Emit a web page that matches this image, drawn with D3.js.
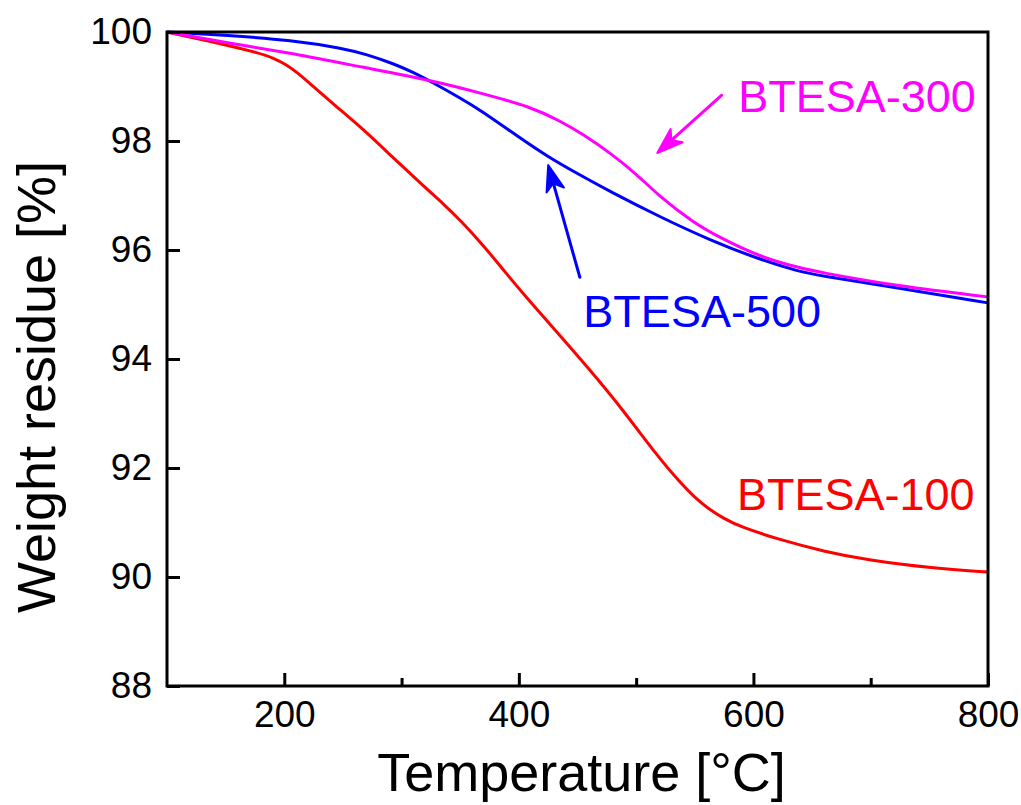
<!DOCTYPE html>
<html>
<head>
<meta charset="utf-8">
<script src="https://cdn.jsdelivr.net/npm/d3@7"></script>
<style>
  body { margin: 0; background: #fff; }
  svg text { font-family: "Liberation Sans", Arial, sans-serif; }
</style>
</head>
<body>
<div id="chart"></div>
<script>
// TGA curves (temperature in degC, weight residue in %)
var temp100 = [100, 151, 179, 190, 202, 212, 222, 245, 265, 293, 320, 335, 350, 370, 390, 410, 433, 461, 489, 518, 538, 550, 561, 575, 589, 623, 660, 697, 753, 800];
var weight100 = [100, 99.76, 99.61, 99.53, 99.40, 99.24, 99.05, 98.62, 98.26, 97.69, 97.15, 96.86, 96.55, 96.08, 95.55, 95.04, 94.48, 93.79, 93.06, 92.22, 91.72, 91.46, 91.26, 91.07, 90.92, 90.68, 90.47, 90.31, 90.16, 90.09];

var temp500 = [100, 151, 207, 250, 270, 293, 310, 325, 350, 367, 400, 424, 450, 478, 520, 563, 606, 640, 654, 725, 800];
var weight500 = [100, 99.94, 99.85, 99.70, 99.59, 99.42, 99.26, 99.09, 98.79, 98.57, 98.07, 97.72, 97.40, 97.07, 96.61, 96.18, 95.82, 95.60, 95.54, 95.30, 95.03];

var temp300 = [100, 151, 207, 265, 330, 367, 410, 435, 455, 478, 500, 520, 549, 572, 606, 640, 654, 725, 800];
var weight300 = [100, 99.80, 99.61, 99.36, 99.09, 98.88, 98.63, 98.37, 98.12, 97.78, 97.40, 96.98, 96.50, 96.22, 95.87, 95.67, 95.60, 95.33, 95.14];

var seriesNames = ['BTESA-100', 'BTESA-500', 'BTESA-300'];
var seriesColors = ['#ff0000', '#0000ff', '#ff00ff'];

// label anchors and arrows in data units
var labelTemp = [586, 455, 587];
var labelWeight = [91.23, 94.59, 98.53];
var arrowFromTemp = [null, 452, 573];
var arrowFromWeight = [null, 95.50, 98.84];
var arrowToTemp = [null, 425, 518];
var arrowToWeight = [null, 97.56, 97.78];

var xTicks = [200, 400, 600, 800];
var xMinorTicks = [300, 500, 700];
var yTicks = [88, 90, 92, 94, 96, 98, 100];

var svgWidth = 1021;
var svgHeight = 805;
var margin = { top: 32, right: 33, bottom: 119, left: 167 };
var chartWidth = svgWidth - margin.left - margin.right;
var chartHeight = svgHeight - margin.top - margin.bottom;

var svg = d3.select('#chart')
    .append('svg')
    .attr('width', svgWidth)
    .attr('height', svgHeight);

var chartGroup = svg.append('g')
    .attr('transform', `translate(${margin.left}, ${margin.top})`);

var xScale = d3.scaleLinear().domain([100, 800]).range([0, chartWidth]);
var yScale = d3.scaleLinear().domain([88, 100]).range([chartHeight, 0]);

var series = [
    { temp: temp100, weight: weight100 },
    { temp: temp500, weight: weight500 },
    { temp: temp300, weight: weight300 }
];

// b-spline to smooth out reading noise
var line = d3.line()
    .x(d => xScale(d[0]))
    .y(d => yScale(d[1]))
    .curve(d3.curveBasis);

series.forEach(function(s, i) {
    var pts = s.temp.map((t, j) => [t, s.weight[j]]);
    chartGroup.append('path')
        .datum(pts)
        .attr('d', line)
        .attr('fill', 'none')
        .attr('stroke', seriesColors[i])
        .attr('stroke-width', 3)
        .attr('stroke-linejoin', 'round');
});

// frame
chartGroup.append('rect')
    .attr('width', chartWidth)
    .attr('height', chartHeight)
    .attr('fill', 'none')
    .attr('stroke', '#000')
    .attr('stroke-width', 3);

// axes, ticks pointing inwards
var bottomAxis = d3.axisBottom(xScale)
    .tickValues(xTicks)
    .tickSize(-13)
    .tickPadding(15)
    .tickFormat(d3.format('d'));
var xAxis = chartGroup.append('g')
    .attr('transform', `translate(0, ${chartHeight})`)
    .call(bottomAxis);

var minorAxis = d3.axisBottom(xScale)
    .tickValues(xMinorTicks)
    .tickSize(-8)
    .tickFormat('');
var xMinor = chartGroup.append('g')
    .attr('transform', `translate(0, ${chartHeight})`)
    .call(minorAxis);

var leftAxis = d3.axisLeft(yScale)
    .tickValues(yTicks)
    .tickSize(-13)
    .tickPadding(15)
    .tickFormat(d3.format('d'));
var yAxis = chartGroup.append('g').call(leftAxis);

[xAxis, xMinor, yAxis].forEach(function(ax) {
    ax.select('.domain').remove();
    ax.selectAll('line').attr('stroke', '#000').attr('stroke-width', 3);
    ax.selectAll('text')
        .attr('fill', '#000')
        .style('font-size', '37px');
});

// axis titles
svg.append('text')
    .attr('x', margin.left + chartWidth / 2 + 4)
    .attr('y', 791)
    .attr('text-anchor', 'middle')
    .style('font-size', '54px')
    .text('Temperature [°C]');

svg.append('text')
    .attr('transform', 'translate(55, 387) rotate(-90)')
    .attr('text-anchor', 'middle')
    .style('font-size', '54px')
    .text('Weight residue [%]');

// labels
seriesNames.forEach(function(name, i) {
    chartGroup.append('text')
        .attr('x', xScale(labelTemp[i]))
        .attr('y', yScale(labelWeight[i]))
        .attr('fill', seriesColors[i])
        .style('font-size', '45px')
        .text(name);
});

// arrows
seriesNames.forEach(function(name, i) {
    if (arrowFromTemp[i] === null) return;
    var x1 = xScale(arrowFromTemp[i]), y1 = yScale(arrowFromWeight[i]);
    var x2 = xScale(arrowToTemp[i]), y2 = yScale(arrowToWeight[i]);
    var ang = Math.atan2(y2 - y1, x2 - x1) * 180 / Math.PI;
    var len = Math.hypot(x2 - x1, y2 - y1);
    var g = chartGroup.append('g')
        .attr('transform', `translate(${x1}, ${y1}) rotate(${ang})`);
    g.append('line')
        .attr('x1', 0).attr('y1', 0)
        .attr('x2', len - 14).attr('y2', 0)
        .attr('stroke', seriesColors[i])
        .attr('stroke-width', 3)
        .attr('stroke-linecap', 'round');
    g.append('path')
        .attr('d', `M${len},0 L${len - 26},-9 L${len - 19},0 L${len - 26},9 Z`)
        .attr('fill', seriesColors[i])
        .attr('stroke', seriesColors[i])
        .attr('stroke-width', 2)
        .attr('stroke-linejoin', 'round');
});
</script>
</body>
</html>
